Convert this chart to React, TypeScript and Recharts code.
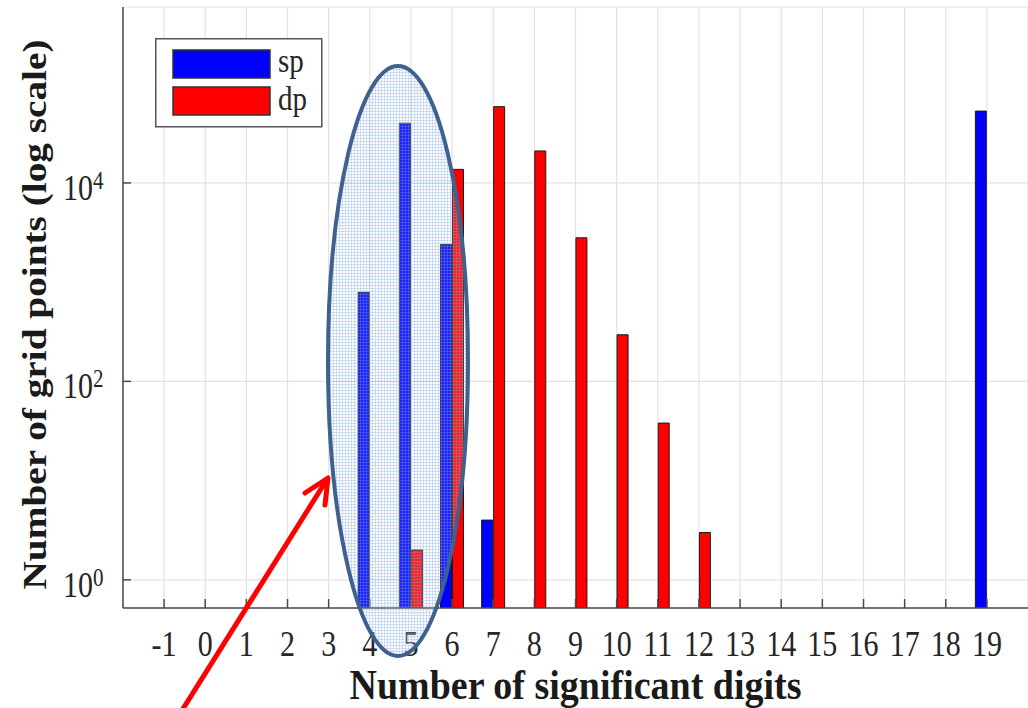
import { BarChart, Bar, XAxis, YAxis, CartesianGrid, Legend, Label } from 'recharts';

// significant-digit bins and grid point counts per precision
const digits = [-1, 0, 1, 2, 3, 4, 5, 6, 7, 8, 9, 10, 11, 12, 13, 14, 15, 16, 17, 18, 19];
const spCounts = [null, null, null, null, null, 790, 40000, 2400, 4, null, null, null, null, null, null, null, null, null, null, null, 53000];
const dpCounts = [null, null, null, null, null, null, 2, 13700, 58700, 21000, 2800, 295, 38, 3, null, null, null, null, null, null, null];
const seriesOrder = ['sp', 'dp'];

const yTicks = [1, 100, 10000];
const yDomain = [0.52, 593000];

const data = digits.map((d, i) => ({ digit: String(d), sp: spCounts[i], dp: dpCounts[i] }));

const serif = '"Liberation Serif", "Times New Roman", serif';
const STRETCH = 1.19;
const axisColor = '#4a4a4a';
const textColor = '#262626';

function BottomTick({ x, y, payload }: any) {
  return (
    <g>
      <line x1={x} y1={y} x2={x} y2={y - 9} stroke={axisColor} strokeWidth={1.5} />
      <text
        transform={`translate(${x},${y + 48}) scale(1,${STRETCH})`}
        textAnchor="middle"
        fontSize={30}
        fontFamily={serif}
        fill={textColor}
      >
        {payload.value}
      </text>
    </g>
  );
}

function TopTick({ x, y }: any) {
  return <line x1={x} y1={y} x2={x} y2={y + 9} stroke={axisColor} strokeWidth={1.5} />;
}

function LeftTick({ x, y, payload }: any) {
  const exp = Math.round(Math.log10(payload.value));
  return (
    <g>
      <line x1={x} y1={y} x2={x + 8} y2={y} stroke={axisColor} strokeWidth={1.5} />
      <text
        transform={`translate(${x - 30},${y + 17}) scale(1,${STRETCH})`}
        textAnchor="end"
        fontSize={30}
        fontFamily={serif}
        fill={textColor}
      >
        10
      </text>
      <text
        transform={`translate(${x - 30},${y + 6}) scale(1,${STRETCH})`}
        textAnchor="start"
        fontSize={21}
        fontFamily={serif}
        fill={textColor}
      >
        {exp}
      </text>
    </g>
  );
}

function RightTick({ x, y }: any) {
  return <line x1={x} y1={y} x2={x - 8} y2={y} stroke={axisColor} strokeWidth={1.5} />;
}

function XTitle({ viewBox }: any) {
  const { x, y, width } = viewBox;
  return (
    <text
      transform={`translate(${x + width / 2},${y + 91}) scale(1,1.12)`}
      textAnchor="middle"
      fontSize={38}
      fontWeight="bold"
      fontFamily={serif}
      fill="#1a1a1a"
    >
      Number of significant digits
    </text>
  );
}

function YTitle({ viewBox }: any) {
  const { y, height } = viewBox;
  return (
    <text
      transform={`translate(46,${y + height / 2 + 7}) scale(1,${STRETCH}) rotate(-90)`}
      textAnchor="middle"
      fontSize={33}
      fontWeight="bold"
      fontFamily={serif}
      fill="#1a1a1a"
    >
      Number of grid points (log scale)
    </text>
  );
}

function LegendBox({ payload }: any) {
  const items = [...(payload || [])]
    .filter((p: any) => seriesOrder.includes(p.value))
    .sort((a: any, b: any) => seriesOrder.indexOf(a.value) - seriesOrder.indexOf(b.value));
  return (
    <svg width={168} height={90} style={{ display: 'block' }}>
      <rect x={0.75} y={0.75} width={166} height={88} fill="#fff" stroke="#555" strokeWidth={1.5} />
      {items.map((item: any, i: number) => (
        <g key={item.value}>
          <rect x={18} y={12 + i * 37} width={97} height={28} fill={item.color} stroke="#333" strokeWidth={1.5} />
          <text
            transform={`translate(123,${34 + i * 38}) scale(1,${STRETCH})`}
            fontSize={29}
            fontFamily={serif}
            fill={textColor}
          >
            {item.value}
          </text>
        </g>
      ))}
    </svg>
  );
}

export default function App() {
  return (
    <div style={{ position: 'absolute', left: 0, top: 0, width: 1028, height: 708, background: '#fff', overflow: 'hidden' }}>
      <BarChart
        width={1028}
        height={708}
        data={data}
        margin={{ top: 7, right: 0, bottom: 0, left: 0 }}
        barGap={1}
      >
        <CartesianGrid stroke="#e2e2e2" strokeWidth={1.2} />
        <XAxis
          dataKey="digit"
          height={100}
          padding={{ left: 20.5, right: 20.5 }}
          interval={0}
          tickSize={0}
          tickMargin={0}
          tick={<BottomTick />}
          axisLine={{ stroke: axisColor, strokeWidth: 1.5 }}
          tickLine={false}
        >
          <Label content={<XTitle />} />
        </XAxis>
        <XAxis
          xAxisId="top"
          dataKey="digit"
          orientation="top"
          height={0}
          padding={{ left: 20.5, right: 20.5 }}
          interval={0}
          tickSize={0}
          tickMargin={0}
          tick={<TopTick />}
          axisLine={{ stroke: axisColor, strokeWidth: 1.5 }}
          tickLine={false}
        />
        <YAxis
          type="number"
          scale="log"
          domain={yDomain}
          allowDataOverflow
          ticks={yTicks}
          width={123}
          tickSize={0}
          tickMargin={0}
          tick={<LeftTick />}
          axisLine={{ stroke: axisColor, strokeWidth: 1.5 }}
          tickLine={false}
        >
          <Label content={<YTitle />} />
        </YAxis>
        <YAxis
          yAxisId="right"
          orientation="right"
          type="number"
          scale="log"
          domain={yDomain}
          allowDataOverflow
          ticks={yTicks}
          width={0}
          tickSize={0}
          tickMargin={0}
          tick={<RightTick />}
          axisLine={false}
          tickLine={false}
        />
        <Legend
          layout="vertical"
          align="center"
          verticalAlign="middle"
          wrapperStyle={{ left: 155, top: 38, width: 168, height: 90 }}
          content={<LegendBox />}
        />
        <Bar dataKey="sp" name="sp" fill="#0000ff" stroke="#1a1a1a" strokeWidth={1} barSize={11} isAnimationActive={false} />
        <Bar dataKey="dp" name="dp" fill="#ff0000" stroke="#1a1a1a" strokeWidth={1} barSize={11} isAnimationActive={false} />
      </BarChart>

      {/* highlight around the single-precision 4–6 digit bins, with pointer arrow */}
      <svg width={1028} height={708} style={{ position: 'absolute', left: 0, top: 0, pointerEvents: 'none' }}>
        <defs>
          <pattern id="hatch" width={3} height={3} patternUnits="userSpaceOnUse">
            <rect width={3} height={3} fill="#d6e4f5" fillOpacity={0.15} />
            <path d="M0 0.5H3M0.5 0V3" stroke="#7aa3d8" strokeOpacity={0.3} strokeWidth={1} />
          </pattern>
        </defs>
        <ellipse cx={398} cy={361} rx={70} ry={295} fill="url(#hatch)" stroke="#3f6190" strokeWidth={4} />
        <g stroke="#ff0000" strokeWidth={5} strokeLinecap="round" strokeLinejoin="round" fill="none">
          <line x1={181} y1={712} x2={326} y2={481} />
          <polyline points="305,493 328,478 325,505" />
        </g>
      </svg>
    </div>
  );
}
